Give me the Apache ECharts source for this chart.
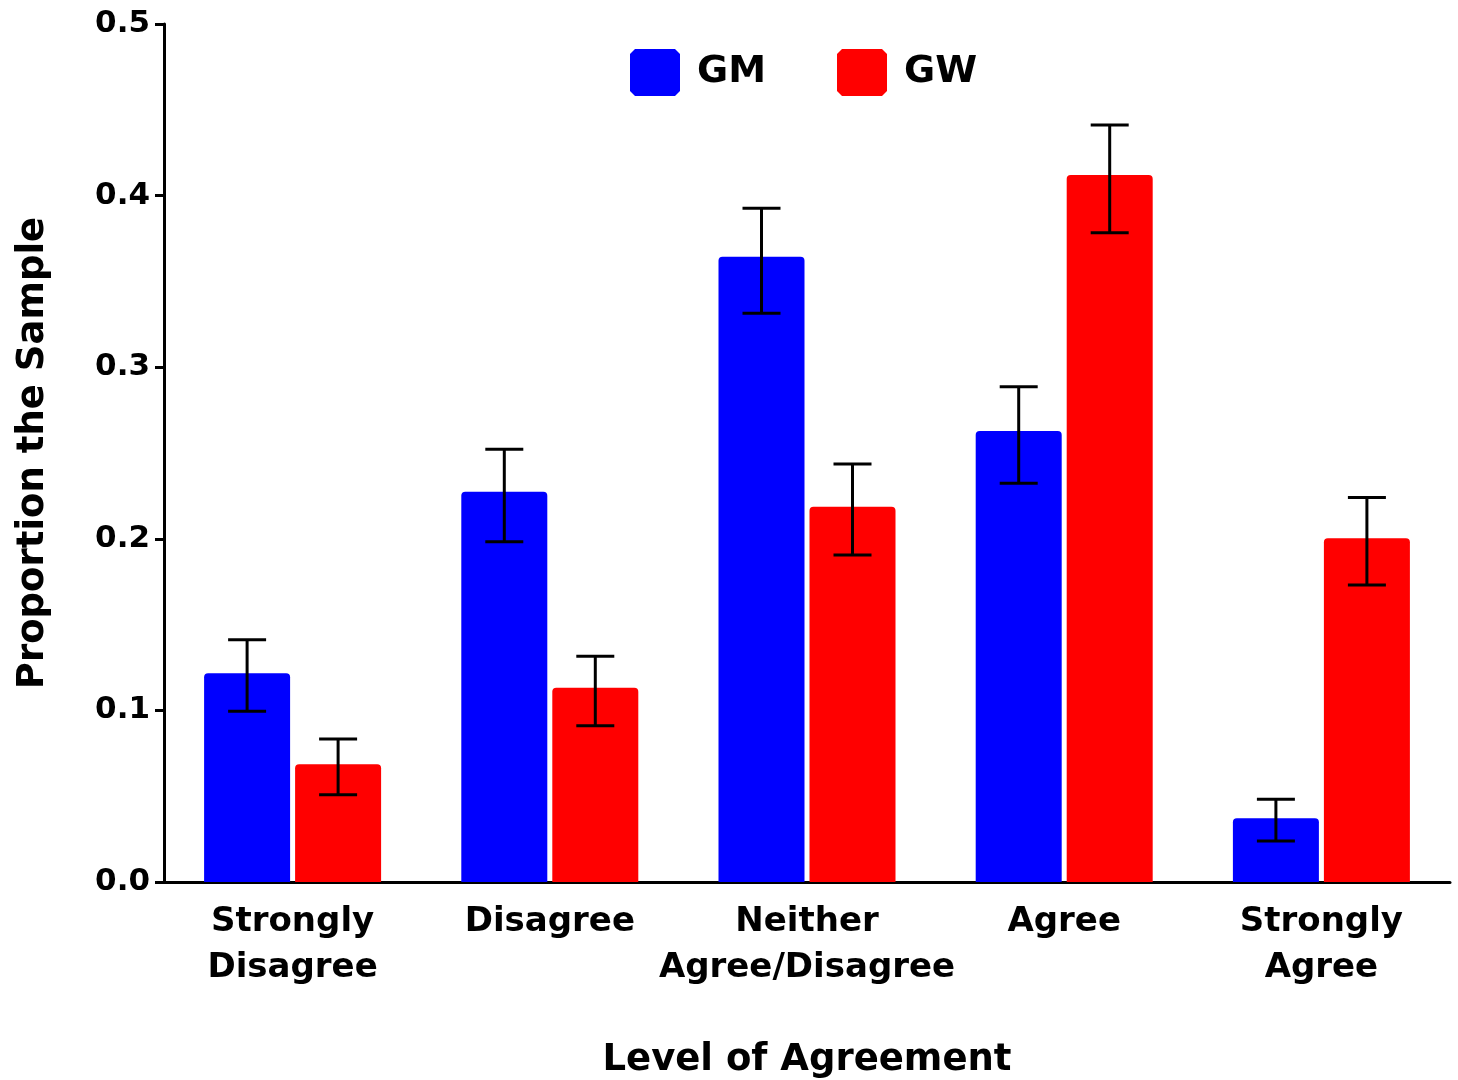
<!DOCTYPE html>
<html>
<head>
<meta charset="utf-8">
<script src="https://cdn.jsdelivr.net/npm/echarts@6/dist/echarts.min.js"></script>
<style>
html,body{margin:0;padding:0;background:#fff;}
#chart{width:1458px;height:1080px;}
</style>
</head>
<body>
<div id="chart"></div>
<script>
const categories = ['Strongly\nDisagree', 'Disagree', 'Neither\nAgree/Disagree', 'Agree', 'Strongly\nAgree'];
const seriesNames = ['GM', 'GW'];
const gmMean = [0.1216, 0.2274, 0.3644, 0.2628, 0.0371];
const gmLow  = [0.0995, 0.1983, 0.3314, 0.2323, 0.0239];
const gmHigh = [0.1412, 0.2522, 0.3926, 0.2886, 0.0482];
const gwMean = [0.0686, 0.1132, 0.2187, 0.4120, 0.2003];
const gwLow  = [0.0509, 0.0911, 0.1906, 0.3784, 0.1731];
const gwHigh = [0.0833, 0.1315, 0.2436, 0.4411, 0.2240];
const yMin = 0, yMax = 0.5, yStep = 0.1;

const FONT = 'DejaVu Sans';
const BAR_W = 86, BAR_GAP_PX = 5;
const OFFSET = (BAR_W + BAR_GAP_PX) / 2;
const CHAMFER_ICON = 'path://M5,0 L45,0 L50,5 L50,42 L45,47 L5,47 L0,42 L0,5 Z';

function errRender(offset) {
  return function (params, api) {
    const x = api.value(0);
    const lo = api.coord([x, api.value(1)]);
    const hi = api.coord([x, api.value(2)]);
    const cx = lo[0] + offset;
    const hw = 19;
    const st = { stroke: '#000', lineWidth: 3 };
    return {
      type: 'group',
      children: [
        { type: 'line', shape: { x1: cx, y1: hi[1], x2: cx, y2: lo[1] }, style: st },
        { type: 'line', shape: { x1: cx - hw, y1: hi[1], x2: cx + hw, y2: hi[1] }, style: st },
        { type: 'line', shape: { x1: cx - hw, y1: lo[1], x2: cx + hw, y2: lo[1] }, style: st }
      ]
    };
  };
}

const chart = echarts.init(document.getElementById('chart'), null, { renderer: 'canvas' });
chart.setOption({
  animation: false,
  backgroundColor: '#fff',
  grid: { left: 164, right: 8, top: 24, bottom: 198, containLabel: false, outerBoundsMode: 'none' },
  legend: {
    data: seriesNames,
    left: 625, top: 44,
    itemWidth: 50, itemHeight: 47, itemGap: 71,
    icon: CHAMFER_ICON,
    textStyle: { fontFamily: FONT, fontWeight: 'bold', fontSize: 38, color: '#000', padding: [0, 0, 0, 12] }
  },
  xAxis: {
    type: 'category',
    data: categories,
    name: 'Level of Agreement',
    nameLocation: 'middle',
    nameGap: 160,
    nameTextStyle: { fontFamily: FONT, fontWeight: 'bold', fontSize: 37, color: '#000' },
    axisLine: { lineStyle: { color: '#000', width: 3 } },
    axisTick: { alignWithLabel: true, length: 10, lineStyle: { color: '#000', width: 3 } },
    axisLabel: { fontFamily: FONT, fontWeight: 'bold', fontSize: 34, color: '#000', lineHeight: 46, margin: 17, interval: 0 },
    splitLine: { show: false }
  },
  yAxis: {
    type: 'value',
    min: yMin, max: yMax, interval: yStep,
    name: 'Proportion the Sample',
    nameLocation: 'middle',
    nameGap: 112,
    nameTextStyle: { fontFamily: FONT, fontWeight: 'bold', fontSize: 37, color: '#000' },
    axisLine: { show: true, lineStyle: { color: '#000', width: 3 } },
    axisTick: { show: true, length: 9, lineStyle: { color: '#000', width: 3 } },
    axisLabel: { fontFamily: FONT, fontWeight: 'bold', fontSize: 31, color: '#000', margin: 14,
      formatter: v => v.toFixed(1) },
    splitLine: { show: false }
  },
  series: [
    { name: 'GM', type: 'bar', data: gmMean, barWidth: BAR_W, barGap: (BAR_GAP_PX / BAR_W * 100) + '%',
      itemStyle: { color: '#0000ff', borderRadius: [4, 4, 0, 0] } },
    { name: 'GW', type: 'bar', data: gwMean, barWidth: BAR_W,
      itemStyle: { color: '#ff0000', borderRadius: [4, 4, 0, 0] } },
    { name: 'GM err', type: 'custom', renderItem: errRender(-OFFSET), z: 10,
      data: categories.map((c, i) => [i, gmLow[i], gmHigh[i]]) },
    { name: 'GW err', type: 'custom', renderItem: errRender(OFFSET), z: 10,
      data: categories.map((c, i) => [i, gwLow[i], gwHigh[i]]) }
  ]
});
</script>
</body>
</html>
